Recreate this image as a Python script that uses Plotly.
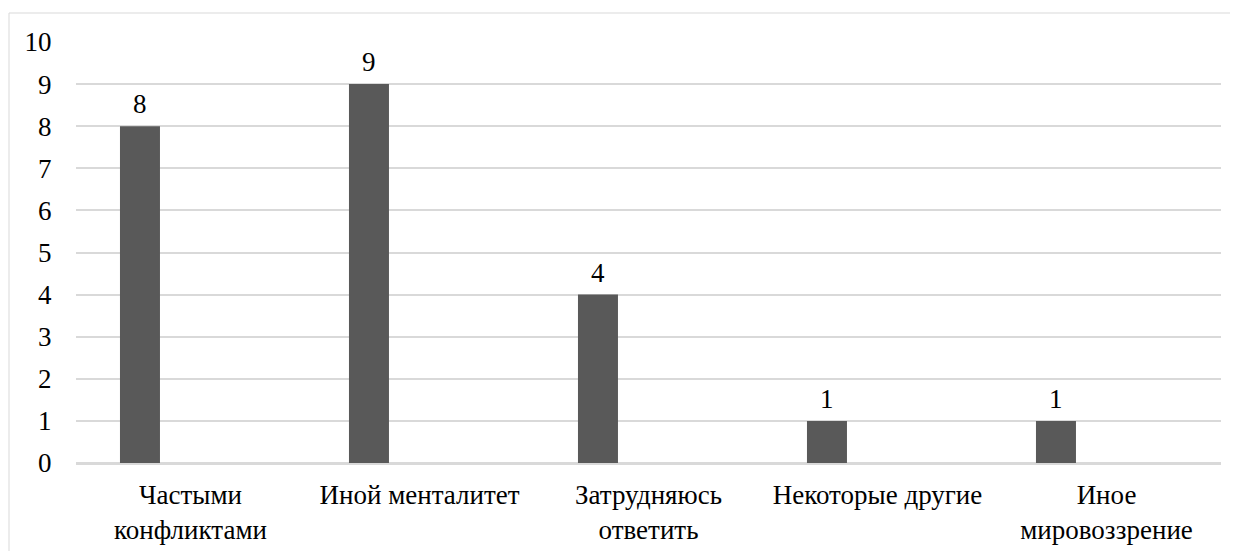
import plotly.graph_objects as go

categories = ["Частыми<br>конфликтами", "Иной менталитет", "Затрудняюсь<br>ответить",
              "Некоторые другие", "Иное<br>мировоззрение"]
values = [8, 9, 4, 1, 1]
y_ticks = list(range(0, 11))

FONT = "Liberation Serif"
GRID = "#d9d9d9"
FS = 27

# page body has an 8px margin; plot area in the picture: x 76..1221, y 42..463
ML, MT, MR, MB = 68, 34, 25, 96
PW, PH = 1238 - ML - MR, 551 - MT - MB

fig = go.Figure()
fig.add_trace(go.Bar(
    x=categories, y=values,
    marker=dict(color="#595959", line=dict(width=0)),
    width=0.1747, offset=-0.308,
    hoverinfo="x+y",
))

for c, v in zip(categories, values):
    fig.add_annotation(x=c, y=v, text=str(v), showarrow=False,
                       xanchor="center", yanchor="bottom", xshift=-50.5, yshift=5,
                       font=dict(family=FONT, size=FS, color="black"))

fig.add_shape(type="rect", xref="paper", yref="paper",
              x0=(1 - ML) / PW, x1=1.2, y0=-0.5, y1=1 + (MT - 5) / PH,
              line=dict(color=GRID, width=1), fillcolor="rgba(0,0,0,0)", layer="below")

fig.update_layout(
    width=1238, height=551,
    margin=dict(l=ML, r=MR, t=MT, b=MB),
    paper_bgcolor="white", plot_bgcolor="white",
    showlegend=False,
    font=dict(family=FONT, size=FS, color="black"),
    xaxis=dict(type="category", showgrid=False, showline=True, linecolor=GRID, linewidth=1.5,
               ticks="outside", ticklen=7, tickcolor="rgba(0,0,0,0)",
               tickfont=dict(family=FONT, size=FS, color="black"), fixedrange=True),
    yaxis=dict(range=[0, 10], tickvals=y_ticks, showgrid=True, gridcolor=GRID, gridwidth=1.5,
               zeroline=True, zerolinecolor=GRID, zerolinewidth=1.5, showline=False,
               ticks="outside", ticklen=18, tickcolor="rgba(0,0,0,0)",
               tickfont=dict(family=FONT, size=FS, color="black"), fixedrange=True),
)

fig.write_html("out.html")
